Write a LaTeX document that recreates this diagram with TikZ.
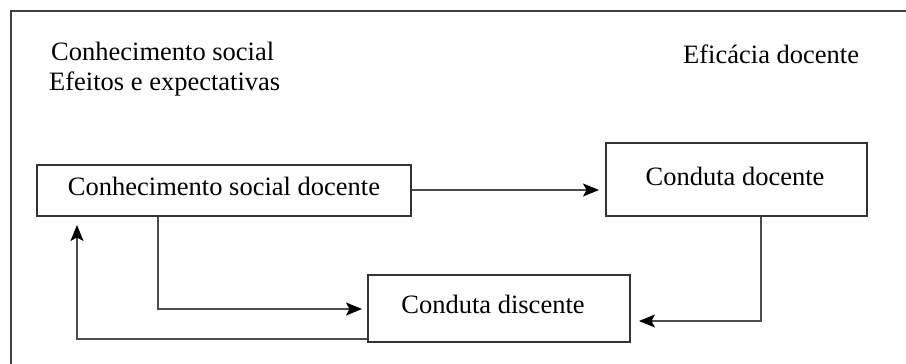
\documentclass[tikz,border=0pt]{standalone}
\usepackage{fontspec}
\setmainfont{Liberation Serif}
\usetikzlibrary{arrows.meta}
\begin{document}
\begin{tikzpicture}[x=1pt,y=-1pt,
  every node/.style={font=\fontsize{26.5}{30}\selectfont, text=black},
  box/.style={draw=black!80, line width=1.2pt, inner sep=0pt, rectangle},
  link/.style={draw=black!70, line width=1.2pt,
    -{Stealth[length=16pt,width=13pt,inset=3.5pt,color=black]}},
  frame/.style={draw=black!75, line width=1.2pt}]
  % page size and outer frame (continues past the right and bottom edges)
  \useasboundingbox (0,0) rectangle (906,364);
  \draw[frame] (11,380) -- (11,11) -- (920,11);

  % headings
  \node[anchor=base west, inner sep=0pt] (hcs) at (51,60) {Conhecimento social};
  \node[anchor=base west, inner sep=0pt] (hee) at (49,90) {Efeitos e expectativas};
  \node[anchor=base west, inner sep=0pt] (hed) at (683,63) {Eficácia docente};

  % boxes
  \node[box, minimum width=374pt, minimum height=51pt] (csd) at (224,190.5) {};
  \node[anchor=base, inner sep=0pt] (csdt) at (224,195) {Conhecimento social docente};
  \node[box, minimum width=261pt, minimum height=73pt] (cdo) at (736.5,179.5) {};
  \node[anchor=base, inner sep=0pt] (cdot) at (735,185) {Conduta docente};
  \node[box, minimum width=262pt, minimum height=67pt] (cdi) at (499,308.5) {};
  \node[anchor=base, inner sep=0pt] (cdit) at (493,313) {Conduta discente};

  % connector end points
  \coordinate (a1) at (599,190);
  \coordinate (a2) at (639,321);
  \coordinate (a3) at (362,309);
  \coordinate (a4) at (77,225);

  % connectors
  \draw[link] (csd.east |- a1) -- (a1);
  \draw[link] (cdo.south -| 761,0) |- (a2);
  \draw[link] (csd.south -| 158,0) |- (a3);
  \draw[link] (cdi.west |- 0,339) -| (a4);
\end{tikzpicture}
\end{document}
